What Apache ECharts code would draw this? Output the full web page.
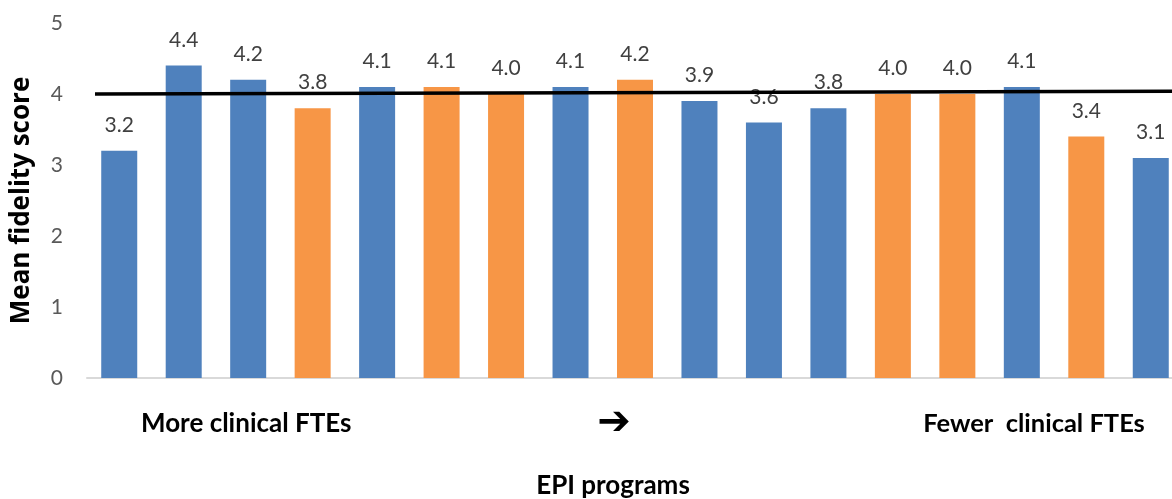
<!DOCTYPE html>
<html>
<head>
<meta charset="utf-8">
<script src="https://cdn.jsdelivr.net/npm/echarts@6/dist/echarts.min.js"></script>
<style>
  html, body { margin: 0; padding: 0; background: #fff; }
  #chart { width: 1172px; height: 499px; }
</style>
</head>
<body>
<div id="chart"></div>
<script>
// EPI programs ordered from more to fewer clinical FTEs
const programs = ['P1','P2','P3','P4','P5','P6','P7','P8','P9','P10','P11','P12','P13','P14','P15','P16','P17'];
const fidelityScores = [3.2, 4.4, 4.2, 3.8, 4.1, 4.1, 4.0, 4.1, 4.2, 3.9, 3.6, 3.8, 4.0, 4.0, 4.1, 3.4, 3.1];
const programGroup = ['A','A','A','B','A','B','B','A','B','A','A','A','B','B','A','B','A'];
const yTicks = [0, 1, 2, 3, 4, 5];
// benchmark line (value at left end, value at right end)
const benchmark = [4.0, 4.04];

const groupColors = { A: '#4f81bd', B: '#f79646' };
const font = 'Lato, "Open Sans", "DejaVu Sans", sans-serif';

const chart = echarts.init(document.getElementById('chart'), null, { renderer: 'canvas' });

chart.setOption({
  animation: false,
  backgroundColor: '#ffffff',
  grid: { left: 87, right: -11, top: 23, bottom: 121, containLabel: false, outerBoundsMode: 'none' },
  xAxis: {
    type: 'category',
    data: programs,
    axisLine: { show: true, lineStyle: { color: '#d9d9d9', width: 2 } },
    axisTick: { show: false },
    axisLabel: { show: false },
    splitLine: { show: false }
  },
  yAxis: {
    type: 'value',
    min: yTicks[0],
    max: yTicks[yTicks.length - 1],
    interval: 1,
    name: 'Mean fidelity score',
    nameLocation: 'middle',
    nameGap: 52,
    nameRotate: 90,
    nameTextStyle: { fontFamily: '"Open Sans", Lato, sans-serif', fontWeight: 'bold', fontSize: 26, color: '#000' },
    axisLine: { show: false },
    axisTick: { show: false },
    splitLine: { show: false },
    axisLabel: { fontFamily: font, fontSize: 21, color: '#595959', margin: 24 }
  },
  series: [{
    type: 'bar',
    barWidth: 36,
    data: fidelityScores.map((v, i) => ({
      value: v,
      itemStyle: { color: groupColors[programGroup[i]] }
    })),
    label: {
      show: true,
      position: 'top',
      distance: 15,
      fontFamily: font,
      fontSize: 21,
      color: '#404040',
      formatter: p => p.value.toFixed(1)
    },
    markLine: {
      silent: true,
      symbol: ['none', 'none'],
      label: { show: false },
      lineStyle: { color: '#000', width: 3.5, type: 'solid' },
      data: [[
        { x: 95, yAxis: benchmark[0] },
        { x: 1172, yAxis: benchmark[1] }
      ]]
    }
  }],
  graphic: [
    {
      type: 'text', x: 141, y: 424,
      style: { text: 'More clinical FTEs', fontFamily: font, fontWeight: 'bold', fontSize: 26, fill: '#000', textVerticalAlign: 'middle' }
    },
    {
      type: 'text', x: 614, y: 424,
      style: { text: '\u2794', fontFamily: '"DejaVu Sans", sans-serif', fontWeight: 'bold', fontSize: 40, fill: '#000', textAlign: 'center', textVerticalAlign: 'middle' }
    },
    {
      type: 'text', x: 1034, y: 424,
      style: { text: 'Fewer  clinical FTEs', fontFamily: font, fontWeight: 'bold', fontSize: 25.5, fill: '#000', textAlign: 'center', textVerticalAlign: 'middle' }
    },
    {
      type: 'text', x: 613, y: 486,
      style: { text: 'EPI programs', fontFamily: font, fontWeight: 'bold', fontSize: 26, fill: '#000', textAlign: 'center', textVerticalAlign: 'middle' }
    }
  ]
});
</script>
</body>
</html>
